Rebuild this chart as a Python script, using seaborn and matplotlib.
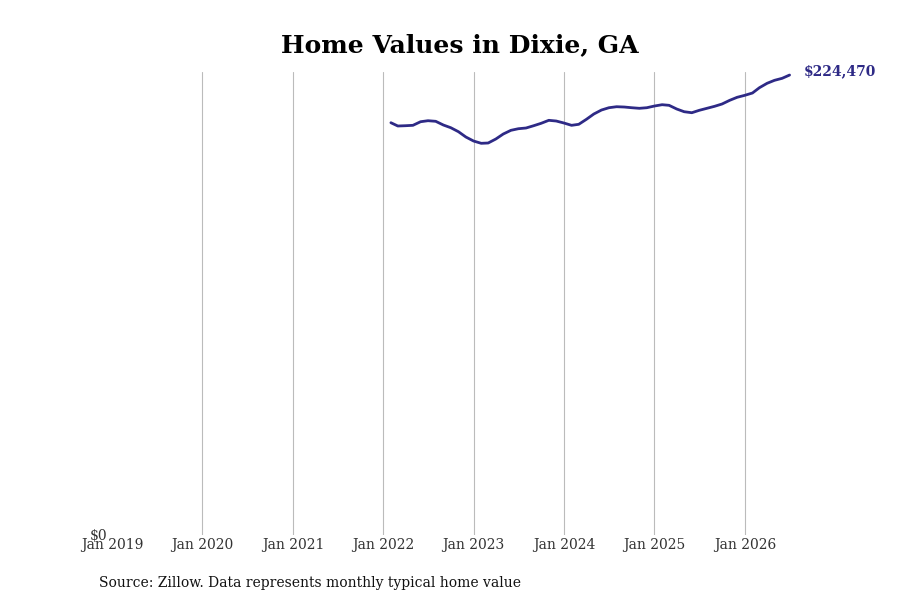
import matplotlib
matplotlib.use("Agg")
import matplotlib.pyplot as plt
import seaborn as sns
import pandas as pd

# ---- data ----
start_month = "2022-02-01"
values = [201200, 199600, 199740, 199930, 201690, 202180, 201890, 200080, 198760, 196810,
          194220, 192270, 191150, 191300, 193250, 195690, 197490, 198270, 198620, 199740,
          200910, 202370, 202030, 201060, 199930, 200420, 202860, 205450, 207400, 208520,
          209010, 208860, 208520, 208230, 208520, 209350, 209990, 209690, 207890, 206570,
          206080, 207250, 208230, 209210, 210330, 212130, 213600, 214570, 215700, 218280,
          220430, 221890, 222870, 224470]
tick_years = [2019, 2020, 2021, 2022, 2023, 2024, 2025, 2026]
title = "Home Values in Dixie, GA"
source = "Source: Zillow. Data represents monthly typical home value"

dates = pd.date_range(start_month, periods=len(values), freq="MS")
df = pd.DataFrame({"date": dates, "value": values})

sns.set_theme(style="white")
plt.rcParams["font.family"] = ["DejaVu Serif"]

line_color = "#2e2a86"

fig = plt.figure(figsize=(9, 6), dpi=100)
ax = fig.add_axes([112 / 900, 1 - 535 / 600, (808 - 112) / 900, (535 - 72) / 600])

sns.lineplot(data=df, x="date", y="value", ax=ax, color=line_color, linewidth=2)

x0 = pd.Timestamp("2019-01-01")
x1 = x0 + pd.Timedelta(days=365.25 * 7.7)
ax.set_xlim(x0, x1)
ax.set_ylim(0, max(values) * 1.0066)

ticks = [pd.Timestamp(f"{y}-01-01") for y in tick_years]
ax.set_xticks(ticks)
ax.set_xticklabels([f"Jan {y}" for y in tick_years], fontsize=10, color="#333333")
ax.set_yticks([0])
ax.set_yticklabels(["$0"], fontsize=10, color="#333333")
ax.tick_params(axis="x", length=0, pad=2)
ax.tick_params(axis="y", length=0, pad=3.5)

ax.grid(axis="x", color="#bbbbbb", linewidth=0.8)
ax.grid(axis="y", visible=False)
ax.get_xgridlines()[0].set_visible(False)
for s in ax.spines.values():
    s.set_visible(False)
ax.set_xlabel("")
ax.set_ylabel("")

ax.annotate(f"${values[-1]:,}", xy=(dates[-1], values[-1]), xytext=(10, 3),
            textcoords="offset points", fontsize=10, fontweight="bold",
            color=line_color, va="center", ha="left")

ax.set_title(title, fontsize=18, fontweight="bold", color="black", pad=14.5)
fig.text(99 / 900, 1 - 582.5 / 600, source, fontsize=10, color="#111111", va="center", ha="left")

fig.savefig("out.png", dpi=100)
